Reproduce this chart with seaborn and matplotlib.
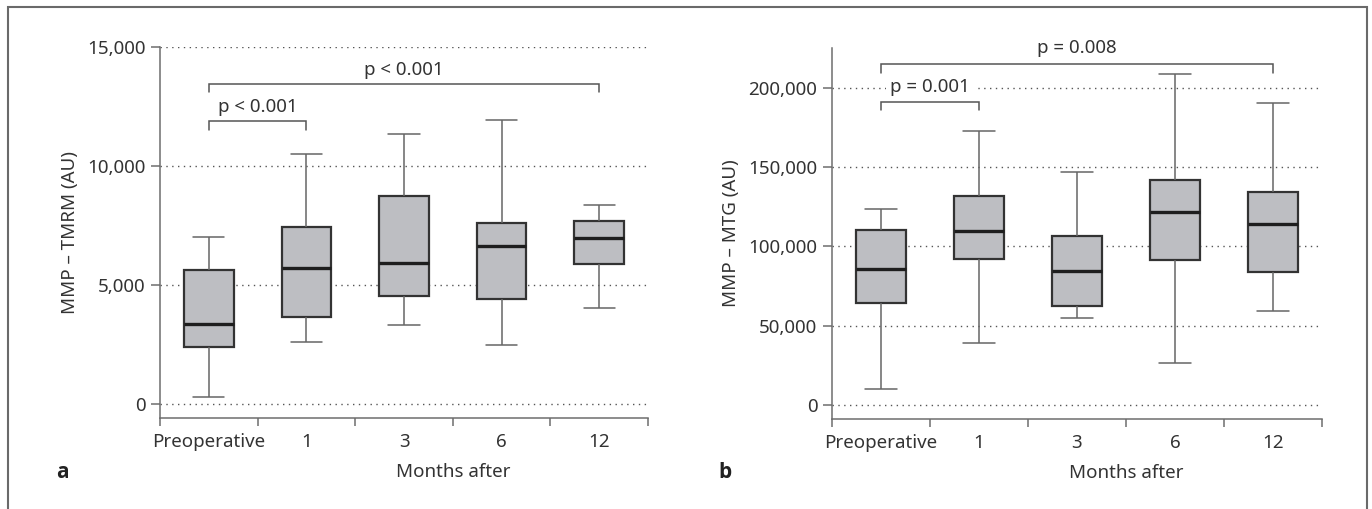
import numpy as np
import pandas as pd
import matplotlib
matplotlib.use("Agg")
import matplotlib.pyplot as plt
from matplotlib.lines import Line2D
from matplotlib.ticker import StrMethodFormatter
import seaborn as sns

# ---- data (five-number summaries) ----
months = ["Preoperative", "1", "3", "6", "12"]

# panel a: MMP - TMRM (AU)   [min, Q1, median, Q3, max]
tmrm_min = [280, 2600, 3320, 2480, 4050]
tmrm_q1 = [2400, 3650, 4550, 4410, 5880]
tmrm_med = [3350, 5700, 5940, 6650, 6980]
tmrm_q3 = [5610, 7440, 8740, 7600, 7690]
tmrm_max = [7010, 10500, 11350, 11950, 8360]

# panel b: MMP - MTG (AU)
mtg_min = [10000, 39000, 55000, 26700, 59500]
mtg_q1 = [64000, 92000, 62600, 91200, 84000]
mtg_med = [86000, 109700, 84600, 121600, 113900]
mtg_q3 = [110000, 132000, 106500, 141800, 134200]
mtg_max = [123300, 172500, 146600, 208800, 190500]

# significance brackets: (from, to, bar level, drop level, text baseline, label)
tmrm_tests = [
    ("Preoperative", "1", 11900, 11500, 12280, "p < 0.001"),
    ("Preoperative", "12", 13450, 13100, 13820, "p < 0.001"),
]
mtg_tests = [
    ("Preoperative", "1", 191200, 185700, 197500, "p = 0.001"),
    ("Preoperative", "12", 214900, 209500, 222000, "p = 0.008"),
]

# ---- style ----
sns.set_theme(style="ticks")
plt.rcParams["font.family"] = ["Noto Sans", "DejaVu Sans"]
plt.rcParams["text.color"] = "#333333"
plt.rcParams["axes.labelcolor"] = "#333333"
plt.rcParams["xtick.color"] = "#6d6d6d"
plt.rcParams["ytick.color"] = "#6d6d6d"
plt.rcParams["xtick.labelcolor"] = "#333333"
plt.rcParams["ytick.labelcolor"] = "#333333"

FS = 13.5
BOX_FILL = "#bdbec2"
EDGE = "#333333"
AXIS_GREY = "#6d6d6d"


def long_frame(mins, q1s, meds, q3s, maxs):
    rows = []
    for i, m in enumerate(months):
        for v in (mins[i], q1s[i], meds[i], q3s[i], maxs[i]):
            rows.append({"month": m, "value": v})
    return pd.DataFrame(rows)


def draw_panel(ax, df, tests, ylim, yticks, ylabel, text_bg=False):
    sns.boxplot(data=df, x="month", y="value", order=months, ax=ax,
                whis=(0, 100), width=0.51, color=BOX_FILL, saturation=1,
                linecolor=EDGE, linewidth=1.5, capwidths=0.32,
                boxprops=dict(edgecolor=EDGE, linewidth=1.6),
                whiskerprops=dict(color="#666666", linewidth=1.1),
                capprops=dict(color="#666666", linewidth=1.1),
                medianprops=dict(color="#1e1e1e", linewidth=2.4),
                showfliers=False)

    ax.set_ylim(*ylim)
    ax.set_xlim(-0.5, len(months) - 0.5)
    ax.set_yticks(yticks)
    ax.yaxis.set_major_formatter(StrMethodFormatter("{x:,.0f}"))
    ax.set_axisbelow(True)
    ax.yaxis.grid(True, color="#555555", linewidth=1.0, linestyle=(0, (1, 3.2)))
    ax.xaxis.grid(False)

    # category labels without marks, marks at category borders
    ax.set_xticks(range(len(months)))
    ax.set_xticklabels(months)
    ax.set_xticks(np.arange(-0.5, len(months)), minor=True)
    ax.tick_params(axis="x", which="major", length=0, pad=11, labelsize=FS)
    ax.tick_params(axis="x", which="minor", length=6, width=1.1, direction="out")
    ax.tick_params(axis="y", length=6.5, width=1.1, pad=4, labelsize=FS)

    for side in ("top", "right"):
        ax.spines[side].set_visible(False)
    for side in ("left", "bottom"):
        ax.spines[side].set_color(AXIS_GREY)
        ax.spines[side].set_linewidth(1.1)

    ax.set_ylabel(ylabel, fontsize=FS, labelpad=6)
    ax.set_xlabel("Months after", fontsize=FS)
    ax.xaxis.set_label_coords(0.6, -0.122)

    for a, b, bar, drop, ty, label in tests:
        x0, x1 = months.index(a), months.index(b)
        ax.plot([x0, x0, x1, x1], [drop, bar, bar, drop], color="#555555",
                linewidth=1.1, clip_on=False, solid_joinstyle="miter")
        kw = {}
        if text_bg:
            kw["bbox"] = dict(facecolor="white", edgecolor="none", pad=3)
        ax.text((x0 + x1) / 2, ty, label, ha="center", va="baseline",
                fontsize=FS, clip_on=False, zorder=3, **kw)


fig = plt.figure(figsize=(13.72, 5.09), dpi=100)
ax_a = fig.add_axes([160 / 1372, 1 - 418 / 509, 488 / 1372, 371 / 509])
ax_b = fig.add_axes([832 / 1372, 1 - 419 / 509, 490 / 1372, 371 / 509])

draw_panel(ax_a, long_frame(tmrm_min, tmrm_q1, tmrm_med, tmrm_q3, tmrm_max),
           tmrm_tests, (-590, 15000), [0, 5000, 10000, 15000], "MMP – TMRM (AU)")
draw_panel(ax_b, long_frame(mtg_min, mtg_q1, mtg_med, mtg_q3, mtg_max),
           mtg_tests, (-8800, 225000), [0, 50000, 100000, 150000, 200000],
           "MMP – MTG (AU)", text_bg=True)

for letter, px in (("a", 62), ("b", 725)):
    fig.text(px / 1372, 1 - 472 / 509, letter, fontsize=15, fontweight="bold",
             family=["Open Sans", "Lato", "DejaVu Sans"],
             ha="center", va="center", color="#222222")

# outer frame (open at the bottom)
fx = [8 / 1372, 8 / 1372, 1367 / 1372, 1367 / 1372]
fy = [0, 1 - 7 / 509, 1 - 7 / 509, 0]
fig.add_artist(Line2D(fx, fy, color="#6a6a6a", linewidth=1.5,
                      transform=fig.transFigure, solid_joinstyle="miter"))

fig.savefig("out.png", dpi=100)
